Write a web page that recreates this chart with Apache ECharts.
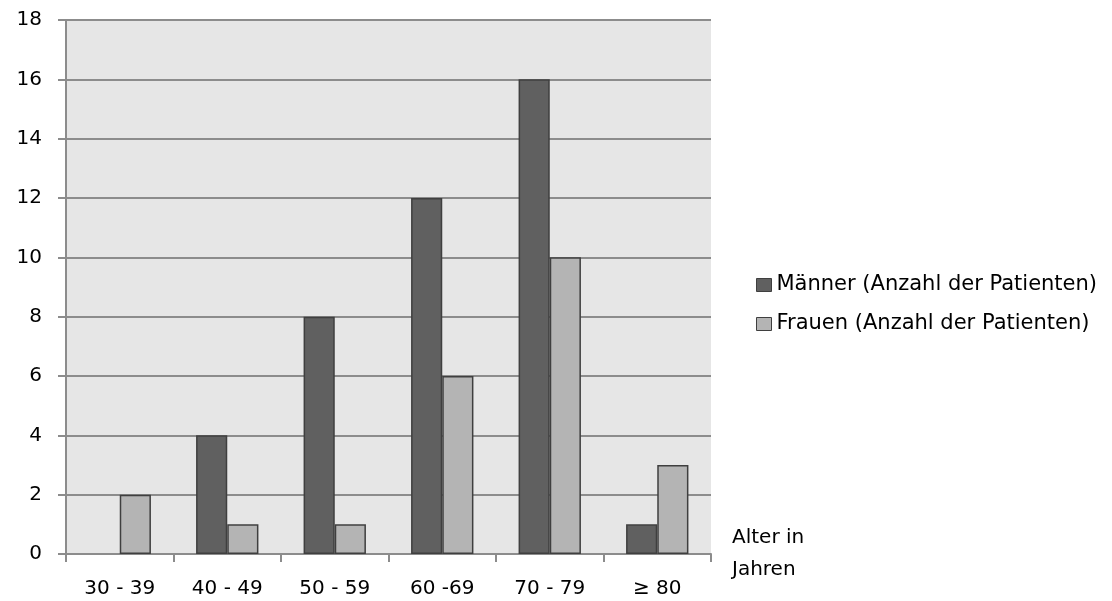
<!DOCTYPE html>
<html><head><meta charset="utf-8">
<script src="https://cdn.jsdelivr.net/npm/echarts@6/dist/echarts.min.js"></script>
<style>html,body{margin:0;padding:0;background:#fff}#c{width:1112px;height:601px}</style>
</head><body><div id="c"></div>
<script>
const categories = ['30 - 39', '40 - 49', '50 - 59', '60 -69', '70 - 79', '≥ 80'];
const maenner = [0, 4, 8, 12, 16, 1];
const frauen = [2, 1, 1, 6, 10, 3];
const seriesNames = ['Männer (Anzahl der Patienten)', 'Frauen (Anzahl der Patienten)'];
const xAxisName = 'Alter in\nJahren';

const font = 'DejaVu Sans';
const hideZero = v => (v === 0 ? '-' : v);
const chart = echarts.init(document.getElementById('c'), null, {renderer: 'canvas'});
chart.setOption({
  animation: false,
  textStyle: {fontFamily: font},
  grid: {left: 66, right: 401, top: 20, bottom: 47, show: true, backgroundColor: '#e6e6e6', borderWidth: 0},
  legend: {
    orient: 'vertical', left: 751, top: 267, itemWidth: 15, itemHeight: 13, itemGap: 13,
    textStyle: {fontFamily: font, fontSize: 21, color: '#000', lineHeight: 26},
    itemStyle: {borderColor: '#3f3f3f', borderWidth: 1},
    data: seriesNames.map(n => ({name: n, icon: 'rect'}))
  },
  xAxis: {
    type: 'category', data: categories,
    name: xAxisName, nameLocation: 'end', nameGap: 21,
    nameTextStyle: {fontFamily: font, fontSize: 20, color: '#000', align: 'left', verticalAlign: 'middle', lineHeight: 32, padding: [0,0,0,0]},
    axisLine: {lineStyle: {color: '#8c8c8c', width: 2}},
    axisTick: {show: true, length: 8, lineStyle: {color: '#8c8c8c', width: 2}},
    axisLabel: {fontFamily: font, fontSize: 20, color: '#000', margin: 25}
  },
  yAxis: {
    type: 'value', min: 0, max: 18, interval: 2,
    axisLine: {show: true, lineStyle: {color: '#8c8c8c', width: 2}},
    axisTick: {show: true, length: 8, lineStyle: {color: '#8c8c8c', width: 2}},
    splitLine: {lineStyle: {color: '#8c8c8c', width: 2}},
    axisLabel: {fontFamily: font, fontSize: 20, color: '#000', margin: 24}
  },
  series: [
    {name: seriesNames[0], type: 'bar', data: maenner.map(hideZero), barGap: '0%', barCategoryGap: '42%',
     itemStyle: {color: '#606060', borderColor: '#3f3f3f', borderWidth: 1.5}},
    {name: seriesNames[1], type: 'bar', data: frauen.map(hideZero), barGap: '0%', barCategoryGap: '42%',
     itemStyle: {color: '#b4b4b4', borderColor: '#3f3f3f', borderWidth: 1.5}}
  ]
});
</script></body></html>
